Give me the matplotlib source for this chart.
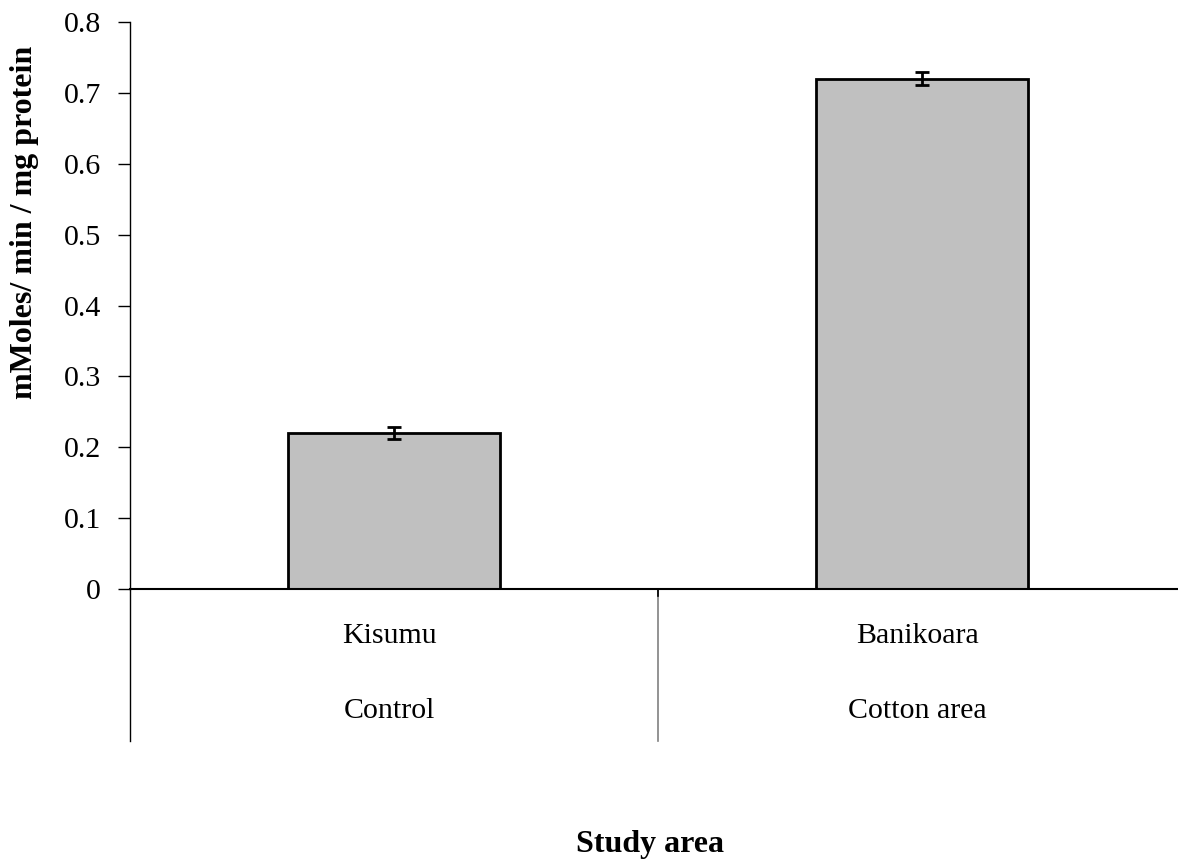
import matplotlib
matplotlib.use("Agg")
import matplotlib.pyplot as plt

categories = ["Kisumu", "Banikoara"]
groups = ["Control", "Cotton area"]
values = [0.22, 0.72]
errors = [0.009, 0.009]
yticks = [0, 0.1, 0.2, 0.3, 0.4, 0.5, 0.6, 0.7, 0.8]
ytick_labels = ["0", "0.1", "0.2", "0.3", "0.4", "0.5", "0.6", "0.7", "0.8"]

plt.rcParams['font.family'] = ['Liberation Serif', 'DejaVu Serif']

W, H = 1178, 859
fig = plt.figure(figsize=(W / 100, H / 100), dpi=100)
ax = fig.add_axes([130 / W, (H - 589) / H, (1186 - 130) / W, (589 - 22) / H])

x = [0.5, 1.5]
ax.bar(x, values, width=0.4, color="#c0c0c0", edgecolor="black", linewidth=2, zorder=2)
ax.errorbar(x, values, yerr=errors, fmt="none", ecolor="black", elinewidth=2,
            capsize=5, capthick=2, zorder=3)

ax.set_xlim(0, 2)
ax.set_ylim(0, 0.8)
ax.set_yticks(yticks)
ax.set_yticklabels(ytick_labels, fontsize=21.5)
ax.set_xticks([])
ax.tick_params(axis="y", direction="out", length=9, width=1, pad=12)
for s in ["top", "right"]:
    ax.spines[s].set_visible(False)
ax.spines["left"].set_linewidth(1)
ax.spines["bottom"].set_linewidth(1.5)

low = -0.214
ax.plot([0, 0], [0, low], color="black", lw=1, clip_on=False)
ax.plot([1, 1], [0, low], color="#808080", lw=1.2, clip_on=False)
ax.plot([1, 1], [0, -0.01], color="black", lw=1.2, clip_on=False)

for xi, c, g in zip(x, categories, groups):
    ax.text(xi - 0.008, -0.0762, c, ha="center", va="baseline", fontsize=21.5)
    ax.text(xi - 0.008, -0.182, g, ha="center", va="baseline", fontsize=21.5)

fig.text(650 / W, 1 - 852 / H, "Study area", ha="center", va="baseline",
         fontsize=23, fontweight="bold")
fig.text(25 / W, 1 - 222 / H, "mMoles/ min / mg protein", ha="center", va="center",
         rotation=90, fontsize=23, fontweight="bold")

fig.savefig("out.png", dpi=100)
